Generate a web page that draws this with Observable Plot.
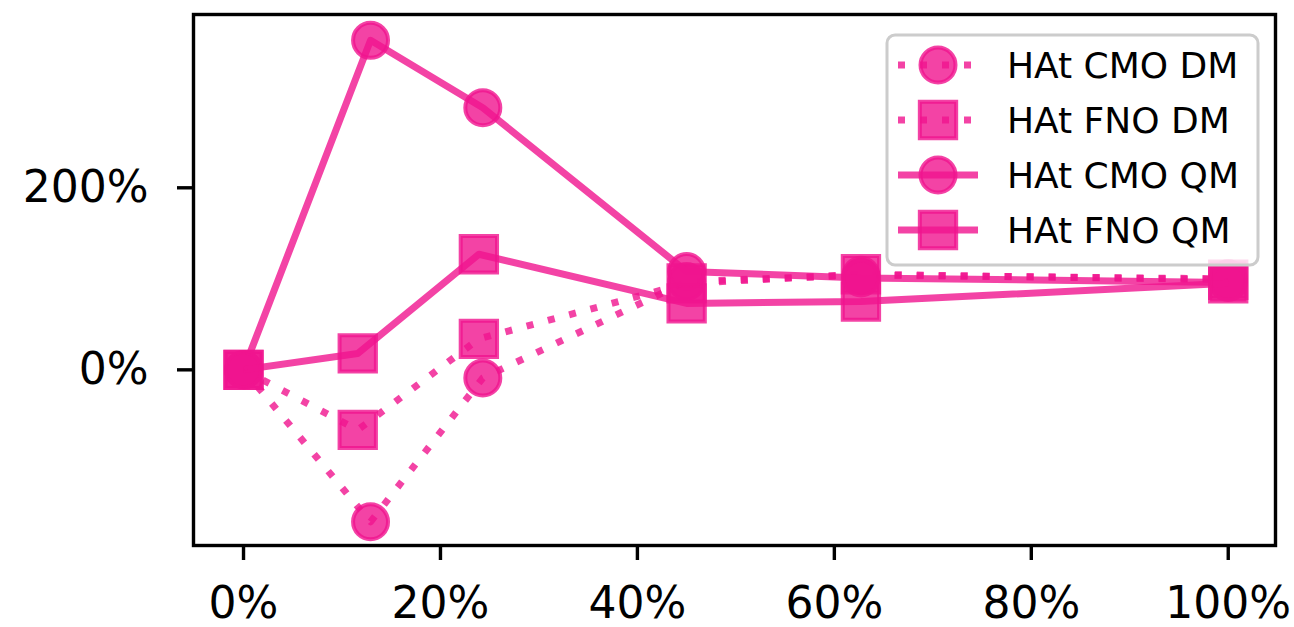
<!DOCTYPE html>
<html>
<head>
<meta charset="utf-8">
<script src="https://cdn.jsdelivr.net/npm/d3@7"></script>
<script src="https://cdn.jsdelivr.net/npm/@observablehq/plot@0.6"></script>
<style>
  html, body { margin: 0; padding: 0; background: #fff; }
  #chart { width: 1294px; height: 627px; }
</style>
</head>
<body>
<div id="chart"></div>
<script>
// ---- data ----
const seriesNames = ["HAt CMO DM", "HAt FNO DM", "HAt CMO QM", "HAt FNO QM"];
const xCMO = [0, 12.9, 24.3, 45, 62.7, 100];
const xFNO = [0, 11.6, 23.9, 45, 62.7, 100];
const cmoDM = [0, -167, -9, 97, 104, 100];
const fnoDM = [0, -66, 34, 95, 105, 99];
const cmoQM = [0, 362, 288, 108, 101, 96];
const fnoQM = [0, 18, 127, 73, 75, 95];
const xTicks = [0, 20, 40, 60, 80, 100];
const yTicks = [0, 200];

const series = [
  {name: seriesNames[0], xs: xCMO, ys: cmoDM, dotted: true,  symbol: "circle"},
  {name: seriesNames[1], xs: xFNO, ys: fnoDM, dotted: true,  symbol: "square"},
  {name: seriesNames[2], xs: xCMO, ys: cmoQM, dotted: false, symbol: "circle"},
  {name: seriesNames[3], xs: xFNO, ys: fnoQM, dotted: false, symbol: "square"}
];

const C = "#f0148f";
const ALPHA = 0.8;
const LW = 7;
const DASH = "7,15";
const R = {circle: 17.5, square: 20.5};

const marks = [];
for (const s of series) {
  const rows = s.xs.map((x, i) => ({x, y: s.ys[i], name: s.name}));
  marks.push(Plot.line(rows, {
    x: "x", y: "y", stroke: C, strokeWidth: LW, strokeOpacity: ALPHA,
    strokeDasharray: s.dotted ? DASH : null, strokeLinecap: "butt", strokeLinejoin: "round"
  }));
  marks.push(Plot.dot(rows, {
    x: "x", y: "y", symbol: () => s.symbol, r: R[s.symbol],
    fill: C, fillOpacity: ALPHA, stroke: C, strokeOpacity: ALPHA, strokeWidth: 4
  }));
}

const chart = Plot.plot({
  width: 1294,
  height: 627,
  marginLeft: 193,
  marginRight: 19,
  marginTop: 14,
  marginBottom: 82,
  style: {fontFamily: "DejaVu Sans", background: "#fff", color: "#000"},
  x: {domain: [-5.08, 104.8]},
  y: {domain: [-193, 390.4]},
  symbol: {domain: ["circle", "square"], range: ["circle", "square"]},
  marks: [
    ...marks,
    Plot.frame({stroke: "#000", strokeWidth: 3.4}),
    Plot.axisX({ticks: xTicks, tickFormat: d => d + "%", tickSize: 15, tickPadding: 26,
      fontSize: 44, strokeWidth: 3.4, label: null}),
    Plot.axisY({ticks: yTicks, tickFormat: d => d + "%", tickSize: 16, tickPadding: 29,
      fontSize: 44, strokeWidth: 3.4, label: null})
  ]
});
document.getElementById("chart").appendChild(chart);

// ---- legend (drawn inside the svg, top right) ----
const svg = d3.select(chart);
const lg = svg.append("g").attr("transform", "translate(887,35)");
lg.append("rect")
  .attr("width", 371).attr("height", 230).attr("rx", 8)
  .attr("fill", "#fff").attr("fill-opacity", 0.8)
  .attr("stroke", "#cccccc").attr("stroke-width", 3);
series.forEach((s, i) => {
  const cy = 30 + i * 55;
  const row = lg.append("g").attr("transform", `translate(0,${cy})`);
  row.append("line")
    .attr("x1", 11).attr("x2", 91).attr("y1", 0).attr("y2", 0)
    .attr("stroke", C).attr("stroke-width", LW).attr("stroke-opacity", ALPHA)
    .attr("stroke-dasharray", s.dotted ? DASH : null);
  const sym = s.symbol === "circle" ? d3.symbolCircle : d3.symbolSquare;
  row.append("path")
    .attr("transform", "translate(51,0)")
    .attr("d", d3.symbol(sym, Math.PI * R[s.symbol] * R[s.symbol])())
    .attr("fill", C).attr("fill-opacity", ALPHA)
    .attr("stroke", C).attr("stroke-opacity", ALPHA).attr("stroke-width", 4);
  row.append("text")
    .attr("x", 120).attr("y", 0).attr("dy", "0.36em")
    .attr("text-anchor", "start")
    .attr("font-family", "DejaVu Sans").attr("font-size", 36).attr("fill", "#000")
    .text(s.name);
});
</script>
</body>
</html>
